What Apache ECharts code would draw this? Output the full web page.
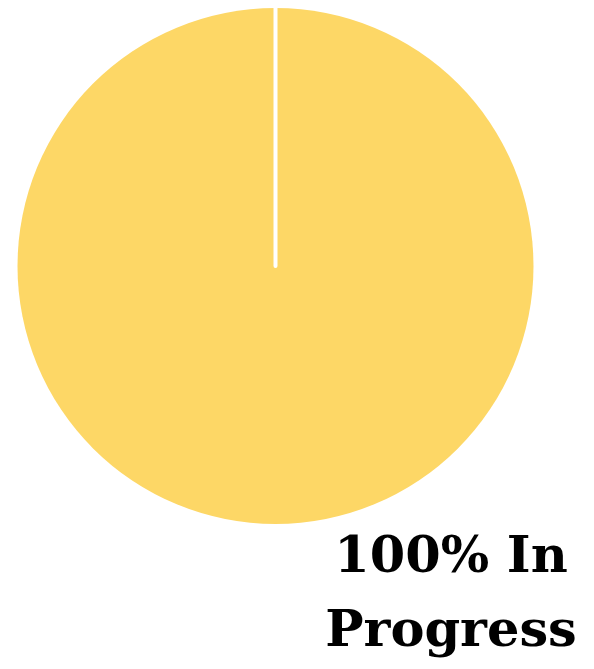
<!DOCTYPE html>
<html><head><meta charset="utf-8">
<script src="https://cdn.jsdelivr.net/npm/echarts@6/dist/echarts.min.js"></script>
<style>html,body{margin:0;padding:0;background:#fff}#c{width:594px;height:669px}</style>
</head><body><div id="c"></div>
<script>
var categories = ['In Progress', ''];
var values = [100, 0];
var percentLabel = '100%';

var chart = echarts.init(document.getElementById('c'), null, {renderer: 'canvas'});
chart.setOption({
  animation: false,
  series: [{
    type: 'pie',
    center: [275.5, 266],
    radius: [0, 258],
    startAngle: 90,
    clockwise: true,
    stillShowZeroSum: true,
    avoidLabelOverlap: false,
    label: {show: false},
    labelLine: {show: false},
    emphasis: {disabled: true},
    data: [
      {name: categories[0], value: values[0], itemStyle: {color: '#FDD766', borderWidth: 0}},
      {name: categories[1], value: values[1], itemStyle: {color: '#FDD766', borderColor: '#ffffff', borderWidth: 4}}
    ]
  }],
  graphic: [{
    type: 'text',
    x: 451, y: 522,
    style: {
      text: percentLabel + ' In\n' + 'Progress',
      font: 'bold 51px "DejaVu Serif"',
      lineHeight: 74,
      fill: '#000',
      align: 'center',
      verticalAlign: 'top'
    }
  }]
});
</script></body></html>
